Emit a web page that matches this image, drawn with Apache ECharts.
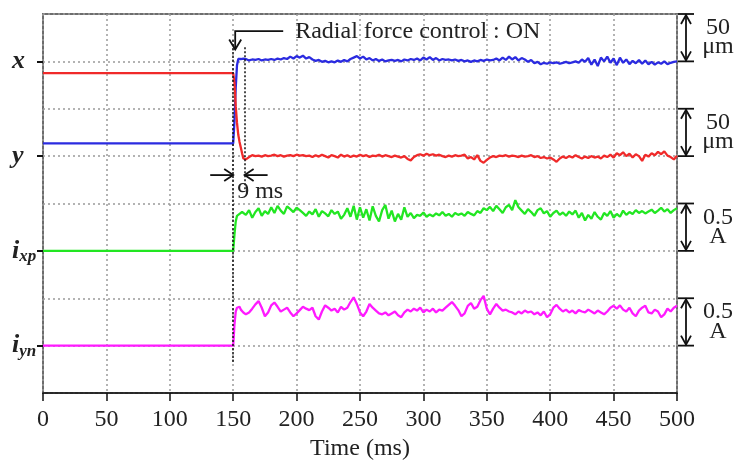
<!DOCTYPE html>
<html>
<head>
<meta charset="utf-8">
<title>Radial force control</title>
<script src="https://cdn.jsdelivr.net/npm/echarts@6/dist/echarts.min.js"></script>
<style>
  html, body { margin: 0; padding: 0; background: #fff; }
  #chart { width: 740px; height: 468px; }
</style>
</head>
<body>
<div id="chart"></div>
<script>
// channel labels, bottom to top (one band each on the 0..8 scale)
const channels = ["i_yn", "i_xp", "y", "x"]

// step part of the traces (ms)
const stepTimes = [0, 150, 151, 152, 153, 154, 155, 156, 157, 158]
const xStep = [5.27, 5.27, 5.75, 6.45, 6.92, 7.05, 7.08, 7.05, 7.04, 7.06]
const yStep = [6.75, 6.75, 6.55, 6.05, 5.7, 5.45, 5.3, 5.18, 5.06, 4.95]
const ixpStep = [3.0, 3.0, 3.35, 3.62, 3.74, 3.7, 3.78, 3.74, 3.82, 3.78]
const iynStep = [1.0, 1.0, 1.45, 1.72, 1.8, 1.84, 1.82, 1.76, 1.72, 1.7]

// controlled part, one sample every 2.5 ms from 160 ms to 500 ms
const noiseStart = 160
const noiseStep = 2.5
const xNoise = [
  7.05, 7.02, 7.04, 7.03, 7.05, 7.02, 7.04, 7.03,
  7.05, 7.03, 7.06, 7.04, 7.07, 7.05, 7.10, 7.06, 7.11, 7.08,
  7.12, 7.06, 7.09, 7.04, 7.01, 7.03, 6.99, 7.01, 6.98, 7.00,
  6.98, 7.02, 6.99, 7.03, 7.00, 7.05, 7.08, 7.11, 7.06, 7.10,
  7.04, 7.07, 7.02, 7.05, 7.01, 7.04, 7.00, 7.02, 7.03, 7.01,
  7.03, 7.00, 7.04, 7.02, 7.05, 7.03, 7.06, 7.02, 7.08, 7.04,
  7.09, 7.03, 7.07, 7.02, 7.05, 7.03, 7.04, 7.02, 7.04, 7.01,
  7.03, 7.00, 7.02, 6.99, 7.02, 7.00, 7.03, 7.01, 7.04, 7.02,
  7.03, 7.06, 7.02, 7.08, 7.03, 7.10, 7.04, 7.09, 7.02, 7.07,
  7.04, 6.99, 7.03, 6.96, 6.99, 6.94, 6.97, 6.95, 6.98, 6.96,
  6.98, 6.95, 6.97, 6.99, 6.96, 6.98, 7.00, 6.97, 7.04, 6.99,
  7.07, 6.93, 7.04, 6.90, 7.08, 7.00, 7.10, 6.97, 7.06, 6.92,
  7.08, 6.97, 7.04, 6.94, 7.01, 6.96, 7.03, 6.95, 7.02, 6.94,
  6.99, 6.93, 6.98, 6.95, 7.00, 6.94, 6.97, 6.99, 7.00
]
const yNoise = [
  4.93, 4.98, 5.02, 5.00, 5.01, 4.99, 5.02, 5.00,
  5.01, 5.03, 5.00, 5.02, 4.99, 5.01, 5.02, 5.00, 5.03, 5.01,
  5.02, 5.00, 5.01, 4.98, 5.02, 4.99, 5.03, 5.00, 4.97, 5.02,
  5.00, 4.97, 5.03, 4.99, 5.02, 4.98, 5.01, 4.99, 5.03, 5.00,
  5.02, 4.98, 5.01, 5.00, 5.03, 4.99, 5.02, 5.00, 4.98, 5.01,
  4.99, 4.97, 5.00, 4.94, 4.91, 4.98, 5.02, 5.04, 5.01, 5.05,
  5.02, 5.04, 5.01, 5.03, 5.00, 4.98, 5.01, 4.99, 5.02, 5.00,
  5.01, 5.03, 4.95, 4.98, 4.93, 5.02, 4.90, 4.86, 4.92, 4.97,
  5.00, 4.98, 5.01, 5.00, 5.02, 4.99, 5.01, 5.00, 4.98, 5.01,
  4.99, 5.00, 5.02, 4.98, 5.00, 4.96, 4.98, 4.95, 4.97, 4.93,
  4.88, 4.95, 4.99, 4.96, 5.00, 4.97, 5.02, 4.98, 4.95, 4.99,
  4.96, 5.00, 4.97, 4.99, 4.95, 5.01, 4.98, 5.03, 4.97, 5.06,
  5.02, 5.08, 5.00, 5.05, 4.97, 5.04, 5.00, 4.90, 5.03, 4.99,
  5.06, 5.02, 5.09, 5.04, 5.10, 5.01, 4.98, 4.93, 5.01
]
const ixpNoise = [
  3.76, 3.86, 3.70, 3.82, 3.90, 3.74, 3.84, 3.78,
  3.92, 3.80, 3.95, 3.85, 3.78, 3.94, 3.88, 3.82, 3.91, 3.86,
  3.80, 3.74, 3.83, 3.77, 3.88, 3.72, 3.84, 3.79, 3.73, 3.86,
  3.78, 3.83, 3.68, 3.76, 3.90, 3.72, 3.95, 3.66, 3.92, 3.70,
  3.88, 3.64, 3.94, 3.74, 3.62, 3.86, 3.97, 3.68, 3.85, 3.62,
  3.78, 3.66, 3.92, 3.72, 3.80, 3.69, 3.76, 3.74, 3.81, 3.72,
  3.77, 3.73, 3.79, 3.75, 3.82, 3.74, 3.78, 3.72, 3.80, 3.76,
  3.79, 3.74, 3.82, 3.78, 3.75, 3.84, 3.80, 3.90, 3.86, 3.93,
  3.84, 3.95, 3.88, 3.80, 3.92, 3.97, 3.86, 4.07, 3.92, 3.85,
  3.78, 3.88, 3.82, 3.74, 3.86, 3.90, 3.79, 3.84, 3.72, 3.80,
  3.85, 3.76, 3.81, 3.74, 3.83, 3.77, 3.85, 3.70, 3.80, 3.64,
  3.76, 3.68, 3.82, 3.72, 3.66, 3.80, 3.74, 3.84, 3.70, 3.78,
  3.72, 3.85, 3.76, 3.82, 3.78, 3.86, 3.80, 3.84, 3.79, 3.83,
  3.87, 3.80, 3.85, 3.91, 3.83, 3.88, 3.80, 3.86, 3.90
]
const iynNoise = [
  1.66, 1.70, 1.78, 1.87, 1.94, 1.80, 1.62, 1.70,
  1.85, 1.91, 1.82, 1.72, 1.76, 1.80, 1.70, 1.62, 1.68, 1.75,
  1.82, 1.78, 1.75, 1.80, 1.62, 1.55, 1.72, 1.85, 1.80, 1.74,
  1.78, 1.70, 1.82, 1.76, 1.80, 1.92, 2.02, 1.88, 1.70, 1.62,
  1.72, 1.88, 1.80, 1.74, 1.68, 1.66, 1.70, 1.64, 1.68, 1.72,
  1.64, 1.60, 1.70, 1.76, 1.72, 1.78, 1.74, 1.80, 1.70, 1.76,
  1.72, 1.78, 1.70, 1.76, 1.74, 1.80, 1.86, 1.92, 1.84, 1.75,
  1.62, 1.68, 1.84, 1.90, 1.78, 1.82, 1.96, 2.05, 1.78, 1.66,
  1.78, 1.88, 1.80, 1.74, 1.76, 1.72, 1.70, 1.66, 1.72, 1.68,
  1.74, 1.70, 1.72, 1.66, 1.70, 1.64, 1.72, 1.60, 1.66, 1.80,
  1.86, 1.78, 1.72, 1.76, 1.70, 1.74, 1.68, 1.75, 1.72, 1.70,
  1.76, 1.72, 1.68, 1.74, 1.70, 1.66, 1.72, 1.80, 1.84, 1.78,
  1.85, 1.76, 1.72, 1.80, 1.68, 1.62, 1.74, 1.80, 1.84, 1.70,
  1.68, 1.76, 1.72, 1.60, 1.66, 1.78, 1.72, 1.80, 1.84
]

// dotted markers: control switched on and 9 ms settling
const onTime = 150
const settleTime = 159

const FONT = "Liberation Serif"

function trace(step, noise) {
  const pts = stepTimes.map((t, i) => [t, step[i]])
  noise.forEach((v, i) => pts.push([noiseStart + i * noiseStep, v]))
  return pts
}

function lineSeries(name, color, data, extra) {
  return Object.assign({
    name,
    type: "line",
    data,
    showSymbol: false,
    symbol: "none",
    silent: true,
    lineStyle: { color, width: 2.3 },
    z: 3
  }, extra || {})
}

const chart = echarts.init(document.getElementById("chart"))

chart.setOption({
  animation: false,
  backgroundColor: "#fff",
  textStyle: { fontFamily: FONT },
  grid: {
    left: 43, right: 63, top: 14, bottom: 75,
    show: true, borderColor: "#6e6e6e", borderWidth: 2, backgroundColor: "transparent"
  },
  xAxis: {
    type: "value",
    min: 0, max: 500, interval: 50,
    offset: 6,
    name: "Time (ms)",
    nameLocation: "middle",
    nameGap: 35,
    nameTextStyle: { fontFamily: FONT, fontSize: 24, color: "#222" },
    axisLine: { show: true, lineStyle: { color: "#111", width: 1.5 } },
    axisTick: { show: true, length: 8, lineStyle: { color: "#111", width: 1.5 } },
    axisLabel: { fontFamily: FONT, fontSize: 24, color: "#222", margin: 9 },
    splitLine: { show: true, lineStyle: { color: "#9a9a9a", width: 1.5, type: [2, 3] } }
  },
  yAxis: [
    {
      type: "value",
      min: 0, max: 8, interval: 1,
      axisLine: { show: false },
      axisTick: { show: false },
      axisLabel: { show: false },
      splitLine: { show: true, lineStyle: { color: "#9a9a9a", width: 1.5, type: [2, 3] } }
    },
    {
      type: "category",
      data: channels,
      position: "left",
      offset: 0,
      boundaryGap: true,
      axisLine: { show: false },
      axisTick: { show: true, alignWithLabel: true, length: 6, lineStyle: { color: "#111", width: 2 } },
      splitLine: { show: false },
      axisLabel: {
        align: "left",
        margin: 31,
        formatter: (v) => ({
          x: "{m|x}",
          y: "{m|y}",
          i_xp: "{m|i}{s|xp}",
          i_yn: "{m|i}{s|yn}"
        })[v],
        rich: {
          m: { fontFamily: FONT, fontStyle: "italic", fontWeight: "bold", fontSize: 26, color: "#222" },
          s: { fontFamily: FONT, fontStyle: "italic", fontWeight: "bold", fontSize: 17, color: "#222", padding: [12, 0, 0, 0] }
        }
      }
    }
  ],
  series: [
    lineSeries("x", "#2b2be0", trace(xStep, xNoise), {
      markLine: {
        silent: true,
        symbol: "none",
        label: { show: false },
        lineStyle: { color: "#111", width: 1.5, type: [2, 2] },
        data: [
          [{ coord: [onTime, 7.45] }, { coord: [onTime, 0.63] }],
          [{ coord: [settleTime, 7.3] }, { coord: [settleTime, 4.29] }]
        ]
      }
    }),
    lineSeries("y", "#f02a2a", trace(yStep, yNoise)),
    lineSeries("i_xp", "#22e622", trace(ixpStep, ixpNoise)),
    lineSeries("i_yn", "#ff1aff", trace(iynStep, iynNoise))
  ]
})

// ---- annotations (placed from data coordinates) ----
const px = (t, v) => chart.convertToPixel({ gridIndex: 0 }, [t, v])
const black = { stroke: "#111", lineWidth: 1.8, fill: null }

function poly(points, style) {
  return { type: "polyline", shape: { points }, style: Object.assign({}, black, style || {}), silent: true, z: 10 }
}
function txt(x, y, text, align, size) {
  return {
    type: "text", x, y, silent: true, z: 10,
    style: { text, fontFamily: FONT, fontSize: size || 20, fill: "#222", align: align || "left", verticalAlign: "middle" }
  }
}
// open "V" arrow head with its tip at (x, y) pointing in direction (dx, dy)
function head(x, y, dx, dy, len, half) {
  const bx = x - dx * len, by = y - dy * len
  const nx = -dy * half, ny = dx * half
  return poly([[bx + nx, by + ny], [x, y], [bx - nx, by - ny]])
}

const g = []

// "Radial force control : ON" with bent arrow onto the 150 ms line
const onTop = px(onTime, 7.64)
const arrowTip = px(onTime, 7.25)
g.push(poly([[onTop[0] + 50, onTop[1]], [arrowTip[0] + 2, onTop[1]], [arrowTip[0] + 2, arrowTip[1]]]))
g.push(head(arrowTip[0] + 2, arrowTip[1], 0, 1, 10, 6))
g.push(txt(onTop[0] + 62, onTop[1] + 1, "Radial force control : ON", "left", 24))

// 9 ms arrows between the two dotted lines
const a = px(onTime, 4.6)
const b = px(settleTime, 4.6)
g.push(poly([[a[0] - 23, a[1]], [a[0], a[1]]]))
g.push(head(a[0], a[1], 1, 0, 9, 6))
g.push(poly([[b[0] + 23, b[1]], [b[0], b[1]]]))
g.push(head(b[0], b[1], -1, 0, 9, 6))
const nine = px(onTime, 4.25)
g.push(txt(nine[0] + 4, nine[1], "9 ms", "left", 24))

// scale bars on the right of the plot
function scaleBar(vTop, vBot, top, bottom) {
  const p1 = px(500, vTop), p2 = px(500, vBot)
  const x0 = p1[0] + 1, xm = p1[0] + 9, x1 = p1[0] + 17
  g.push(poly([[x0, p1[1]], [x1, p1[1]]]))
  g.push(poly([[x0, p2[1]], [x1, p2[1]]]))
  g.push(poly([[xm, p1[1]], [xm, p2[1]]]))
  g.push(head(xm, p1[1] + 1, 0, -1, 9, 5))
  g.push(head(xm, p2[1] - 1, 0, 1, 9, 5))
  const h = p2[1] - p1[1]
  g.push(txt(p1[0] + 41, p1[1] + h * 0.29, top, "center", 24))
  g.push(txt(p1[0] + 41, p1[1] + h * 0.7, bottom, "center", 24))
}
scaleBar(8, 7, "50", "\u03bcm")
scaleBar(6, 5, "50", "\u03bcm")
scaleBar(4, 3, "0.5", "A")
scaleBar(2, 1, "0.5", "A")

chart.setOption({ graphic: g })

window.addEventListener("resize", () => chart.resize())
</script>
</body>
</html>
